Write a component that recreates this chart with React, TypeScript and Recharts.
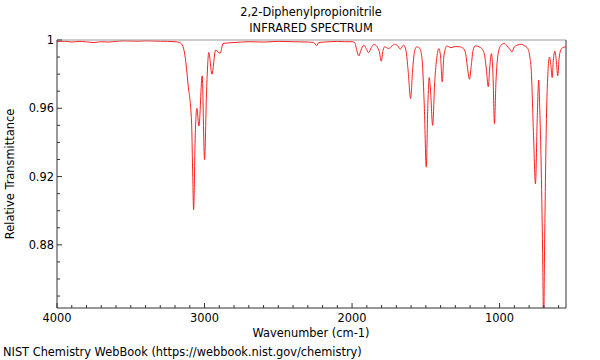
import React from 'react';
import { LineChart, Line, XAxis, YAxis } from 'recharts';

// wavenumber (cm-1), high to low
const wavenumbers = [
  4000, 3950, 3900, 3850, 3800, 3750, 3700, 3650, 3600, 3550, 3500, 3450, 3400, 3350, 3300,
  3250, 3200, 3170, 3150, 3133, 3111, 3088, 3081, 3074, 3063, 3052, 3038, 3016, 3000, 2986,
  2971, 2950, 2925, 2894, 2874, 2800, 2700, 2600, 2500, 2400, 2300, 2260, 2240, 2225, 2150,
  2100, 2050, 2000, 1982, 1968, 1955, 1940, 1921, 1905, 1888, 1870, 1852, 1830, 1815, 1802,
  1790, 1779, 1752, 1730, 1712, 1690, 1673, 1651, 1635, 1620, 1603, 1590, 1575, 1561, 1540,
  1525, 1510, 1497, 1487, 1477, 1468, 1454, 1440, 1425, 1412, 1400, 1389, 1378, 1358, 1330,
  1300, 1270, 1245, 1230, 1218, 1204, 1192, 1180, 1163, 1140, 1118, 1100, 1090, 1077, 1066,
  1055, 1045, 1035, 1025, 1010, 990, 968, 945, 930, 917, 900, 880, 854, 830, 809,
  795, 786, 770, 757, 745, 735, 728, 718, 707, 702, 695, 680, 662, 652, 644,
  636, 626, 616, 606, 596, 580, 572, 550,
];

const transmittance = [
  0.999, 0.9993, 0.9988, 0.9992, 0.9989, 0.9985, 0.999, 0.9988, 0.9992, 0.9995, 0.9994, 0.9993, 0.9995, 0.9994, 0.9993,
  0.9992, 0.999, 0.9985, 0.997, 0.991, 0.9735, 0.952, 0.925, 0.9006, 0.944, 0.96, 0.9496, 0.979, 0.93, 0.9706,
  0.9927, 0.98, 0.994, 0.9922, 0.998, 0.9985, 0.999, 0.9988, 0.9992, 0.999, 0.9988, 0.9985, 0.9968, 0.9985, 0.999,
  0.9992, 0.999, 0.999, 0.9985, 0.994, 0.9906, 0.994, 0.997, 0.995, 0.9926, 0.9955, 0.9974, 0.996, 0.993, 0.9876,
  0.994, 0.996, 0.995, 0.9965, 0.9975, 0.9965, 0.9947, 0.997, 0.994, 0.982, 0.9657, 0.982, 0.994, 0.996, 0.995,
  0.988, 0.96, 0.9255, 0.96, 0.978, 0.97, 0.95, 0.975, 0.99, 0.995, 0.99, 0.9755, 0.99, 0.9965, 0.9955,
  0.9962, 0.996, 0.995, 0.992, 0.984, 0.977, 0.985, 0.994, 0.9966, 0.996, 0.9947, 0.99, 0.983, 0.9726, 0.985,
  0.992, 0.98, 0.951, 0.975, 0.992, 0.997, 0.998, 0.996, 0.9945, 0.993, 0.996, 0.997, 0.9975, 0.9965, 0.995,
  0.99, 0.983, 0.944, 0.9157, 0.954, 0.9765, 0.96, 0.925, 0.866, 0.83, 0.88, 0.9637, 0.99, 0.985, 0.978,
  0.988, 0.9935, 0.988, 0.979, 0.99, 0.995, 0.9955, 0.996,
];

const xTicks = [
  4000, 3900, 3800, 3700, 3600, 3500, 3400, 3300, 3200, 3100, 3000, 2900, 2800, 2700, 2600, 2500,
  2400, 2300, 2200, 2100, 2000, 1900, 1800, 1700, 1600, 1500, 1400, 1300, 1200, 1100, 1000, 900,
  800, 700, 600,
];
const yTicks = [1, 0.99, 0.98, 0.97, 0.96, 0.95, 0.94, 0.93, 0.92, 0.91, 0.9, 0.89, 0.88, 0.87, 0.86, 0.85];

const data = wavenumbers.map((w, i) => ({ w, t: transmittance[i] }));

const FONT = '"DejaVu Sans", sans-serif';
const AXIS = '#333';
const MARGIN = 4;

const XTick = (props: any) => {
  const { x, y, payload } = props;
  const major = payload.value % 1000 === 0;
  const ay = y - MARGIN;
  return (
    <g>
      <line x1={x} x2={x} y1={ay} y2={ay - (major ? 5 : 3)} stroke={AXIS} />
      {major && (
        <text x={x} y={ay + 14} textAnchor="middle" fontSize={11.4} fontFamily={FONT} fill="#000">
          {payload.value}
        </text>
      )}
    </g>
  );
};

const YTick = (props: any) => {
  const { x, y, payload } = props;
  const v = payload.value;
  const major = Math.round(v * 100) % 4 === 0;
  const ax = x + MARGIN;
  return (
    <g>
      <line x1={ax} x2={ax + (major ? 5 : 3)} y1={y} y2={y} stroke={AXIS} />
      {major && (
        <text x={ax - 3} y={y + 4} textAnchor="end" fontSize={11.4} fontFamily={FONT} fill="#000">
          {v === 1 ? '1' : v.toFixed(2)}
        </text>
      )}
    </g>
  );
};

const textStyle: React.CSSProperties = {
  position: 'absolute',
  fontFamily: FONT,
  fontSize: 11.4,
  color: '#000',
  whiteSpace: 'nowrap',
  lineHeight: '13px',
};

export default function App() {
  return (
    <div style={{ position: 'absolute', left: 0, top: 0, width: 600, height: 360, background: '#fff' }}>
      <LineChart width={600} height={360} data={data} margin={{ top: 39, right: 33, bottom: 22, left: 17 }}>
        <XAxis
          dataKey="w"
          type="number"
          reversed
          domain={[550, 4000]}
          allowDataOverflow
          ticks={xTicks}
          interval={0}
          height={30}
          tickSize={0}
          tickMargin={MARGIN}
          tick={<XTick />}
          axisLine={{ stroke: AXIS }}
        />
        <XAxis
          xAxisId="top"
          orientation="top"
          dataKey="w"
          type="number"
          reversed
          domain={[550, 4000]}
          height={1}
          tick={false}
          tickLine={false}
          axisLine={{ stroke: '#999' }}
        />
        <YAxis
          type="number"
          domain={[0.843, 1]}
          allowDataOverflow
          ticks={yTicks}
          interval={0}
          width={40}
          tickSize={0}
          tickMargin={MARGIN}
          tick={<YTick />}
          axisLine={{ stroke: AXIS }}
        />
        <YAxis
          yAxisId="right"
          orientation="right"
          type="number"
          domain={[0.843, 1]}
          width={1}
          tick={false}
          tickLine={false}
          axisLine={{ stroke: AXIS }}
        />
        <Line
          dataKey="t"
          type="monotone"
          stroke="#ff2020"
          strokeWidth={1}
          dot={false}
          isAnimationActive={false}
        />
      </LineChart>
      <div style={{ ...textStyle, left: 0, width: 622, textAlign: 'center', top: 6 }}>2,2-Diphenylpropionitrile</div>
      <div style={{ ...textStyle, left: 0, width: 622, textAlign: 'center', top: 22 }}>INFRARED SPECTRUM</div>
      <div style={{ ...textStyle, left: 0, width: 622, textAlign: 'center', top: 327 }}>Wavenumber (cm-1)</div>
      <div style={{ ...textStyle, left: 3, top: 346 }}>NIST Chemistry WebBook (https://webbook.nist.gov/chemistry)</div>
      <div
        style={{
          ...textStyle,
          left: 10,
          top: 174,
          transform: 'translate(-50%, -50%) rotate(-90deg)',
        }}
      >
        Relative Transmittance
      </div>
    </div>
  );
}
